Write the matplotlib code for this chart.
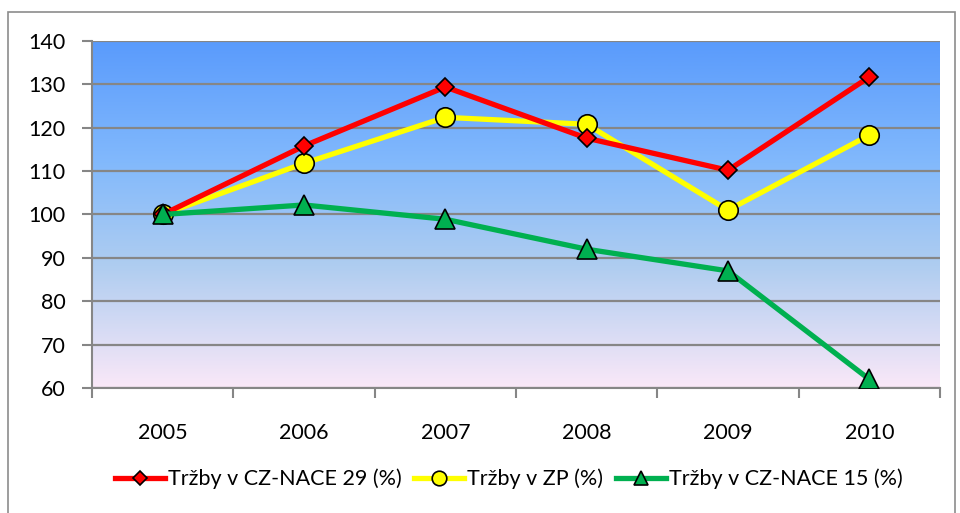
import numpy as np
import matplotlib
matplotlib.use("Agg")
import matplotlib.pyplot as plt
from matplotlib.colors import LinearSegmentedColormap
from matplotlib.patches import Rectangle

years = ["2005", "2006", "2007", "2008", "2009", "2010"]
nace29 = [100, 115.8, 129.4, 117.6, 110.2, 131.7]
zp = [100, 111.8, 122.4, 120.8, 101.0, 118.3]
nace15 = [100, 102.2, 98.9, 92.0, 87.0, 62.0]
labels = ["Tržby v CZ-NACE 29 (%)", "Tržby v ZP (%)", "Tržby v CZ-NACE 15 (%)"]

plt.rcParams['font.family'] = ['Lato', 'DejaVu Sans']

fig = plt.figure(figsize=(9.6, 5.13), dpi=100)
# outer border
fig.patches.append(Rectangle((8/960, -0.01), (955-8)/960, 1 - 12/513 + 0.01,
                             transform=fig.transFigure, fill=False,
                             edgecolor='#8c8c8c', linewidth=1.2))

ax = fig.add_axes([92/960, 1-388/513, (940-92)/960, (388-41)/513])

x = np.arange(len(years))
ax.set_xlim(-0.5, len(years)-0.5)
ax.set_ylim(60, 140)

# gradient background
cmap = LinearSegmentedColormap.from_list('bg', [
    (0.0, (250/255, 232/255, 248/255)),
    (0.35, (175/255, 205/255, 240/255)),
    (0.65, (130/255, 185/255, 252/255)),
    (1.0, (90/255, 155/255, 252/255)),
])
grad = np.linspace(0, 1, 256).reshape(-1, 1)
ax.imshow(grad, aspect='auto', cmap=cmap, origin='lower',
          extent=[-0.5, len(years)-0.5, 60, 140], zorder=0)

ax.set_yticks(np.arange(60, 141, 10))
ax.yaxis.grid(True, color='#868686', linewidth=1.6, zorder=1)
ax.set_axisbelow(True)

ax.set_xticks(x)
ax.set_xticklabels(years)
ax.set_xticks(np.arange(-0.5, len(years), 1), minor=True)
ax.tick_params(axis='x', which='major', length=0, pad=25, labelsize=15.5)
ax.tick_params(axis='x', which='minor', length=7, color='#868686', width=1.5, direction='out')
ax.tick_params(axis='y', length=7, color='#868686', width=1.5, labelsize=15.5, pad=12)

for s in ['top', 'right']:
    ax.spines[s].set_visible(False)
for s in ['left', 'bottom']:
    ax.spines[s].set_color('#868686')
    ax.spines[s].set_linewidth(1.5)

ax.plot(x, nace29, color='#ff0000', linewidth=3.8, marker='D', markersize=9.5,
        markerfacecolor='#ff0000', markeredgecolor='black', markeredgewidth=1.2,
        label=labels[0], zorder=4)
ax.plot(x, zp, color='#ffff00', linewidth=3.8, marker='o', markersize=14,
        markerfacecolor='#ffff00', markeredgecolor='black', markeredgewidth=1.2,
        label=labels[1], zorder=3)
ax.plot(x, nace15, color='#00b050', linewidth=3.8, marker='^', markersize=14,
        markerfacecolor='#00b050', markeredgecolor='black', markeredgewidth=1.2,
        label=labels[2], zorder=5)

leg = fig.legend(loc='center', bbox_to_anchor=(0.53, 1-479/513), ncol=3,
                 frameon=False, fontsize=15.5, handlelength=2.3, markerscale=0.75,
                 handletextpad=0.15, columnspacing=0.6)

fig.savefig('out.png', dpi=100)
